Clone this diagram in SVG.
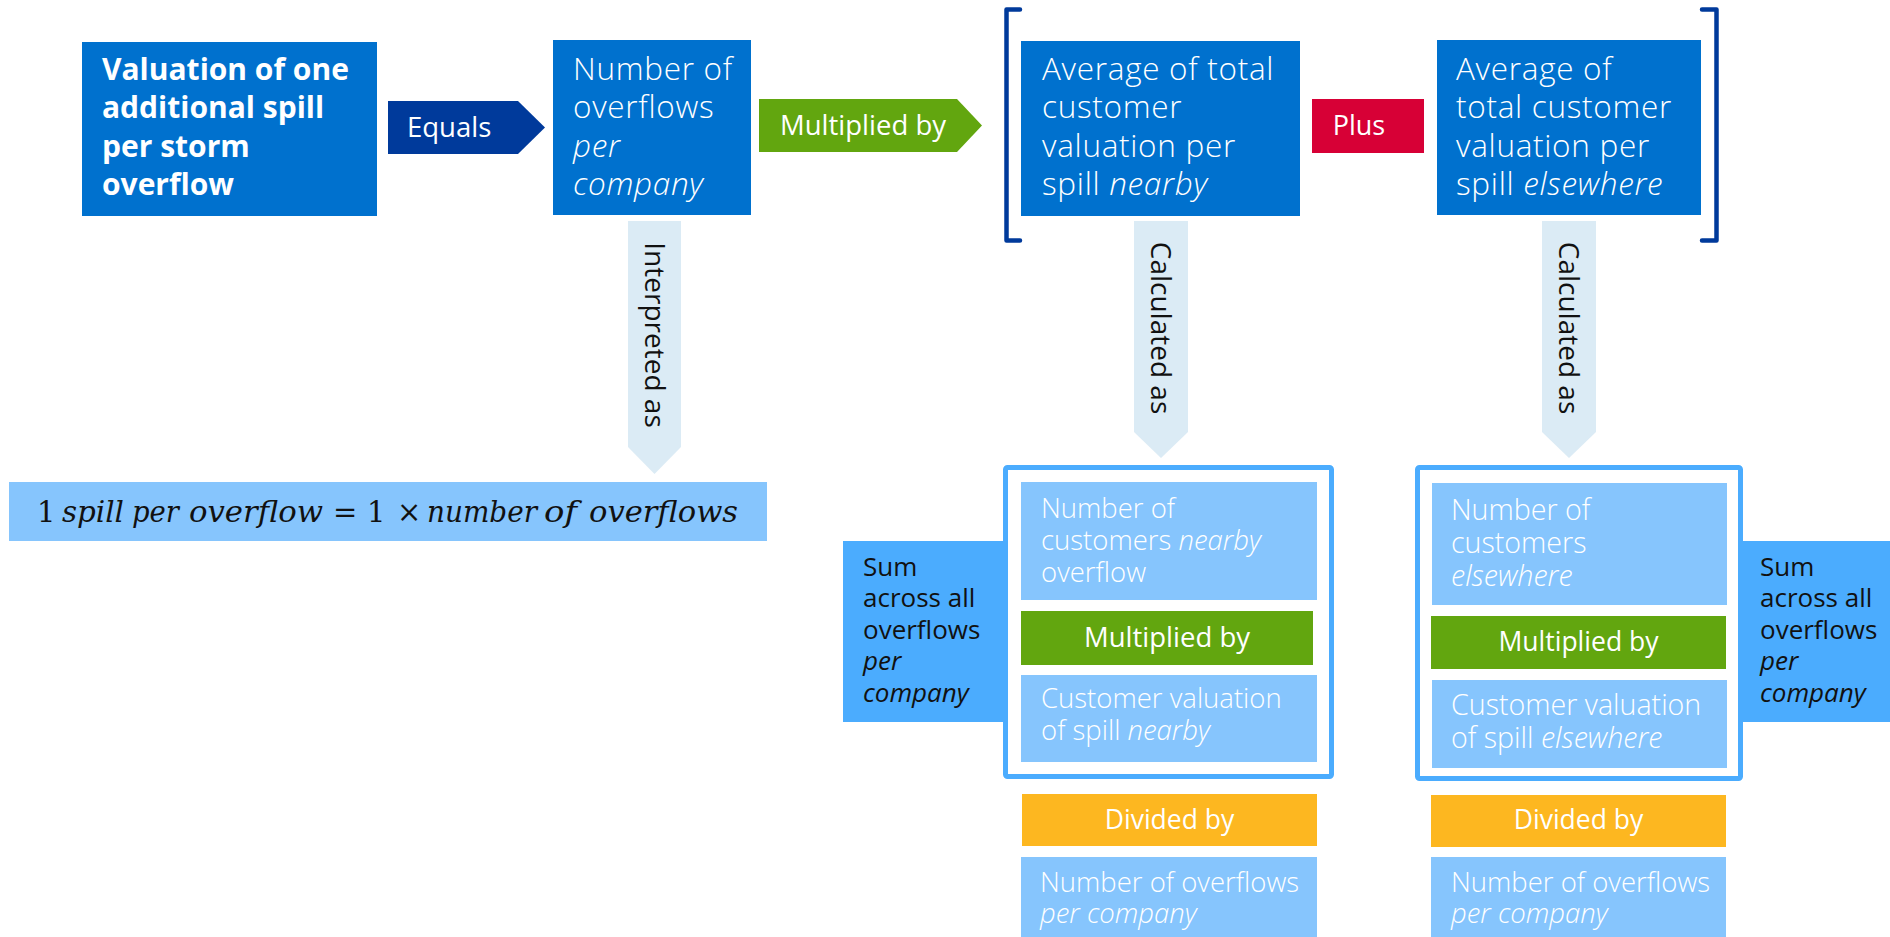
<svg xmlns="http://www.w3.org/2000/svg" width="1890" height="937" viewBox="0 0 1890 937">
  <style>
    text { font-family: "Open Sans", "Liberation Sans", sans-serif; }
    .it { font-style: italic; }
    .head { fill: #0071CE; }
    .pale { fill: #86C5FD; }
    .mid { fill: #4BACFE; }
    .grn { fill: #62A60F; }
    .org { fill: #FDB720; }
    .navy { fill: #003A9B; }
    .red { fill: #D70036; }
    .flow { fill: #DBEBF5; }
    .bold { fill: #fff; font-weight: 700; font-size: 30px; }
    .light { fill: #fff; font-weight: 300; font-size: 31.5px; letter-spacing: 0.7px; }
    .lab { fill: #fff; font-size: 27.5px; }
    .inner { fill: #fff; font-weight: 300; font-size: 27.5px; }
    .inner-r { fill: #fff; font-weight: 300; font-size: 28.6px; }
    .op { fill: #fff; font-size: 26.5px; text-anchor: middle; }
    .sum { fill: #111; font-size: 26px; }
    .vert { fill: #111; font-size: 28px; text-anchor: middle; }
    .math { fill: #111; font-family: "DejaVu Serif", "Liberation Serif", serif; font-size: 29px; }
    .brk { fill: none; stroke: #003A9B; stroke-width: 4.5; stroke-linejoin: round; stroke-linecap: round; }
    .frame { fill: #fff; stroke: #4BACFE; stroke-width: 5; }
  </style>

  <!-- top row -->
  <g id="valuation">
    <rect class="head" x="82" y="42" width="295" height="174"/>
    <text class="bold">
      <tspan x="102" y="80">Valuation of one</tspan>
      <tspan x="102" y="118">additional spill</tspan>
      <tspan x="102" y="157">per storm</tspan>
      <tspan x="102" y="195">overflow</tspan>
    </text>
  </g>

  <g id="overflows">
    <rect class="head" x="553" y="40" width="198" height="175"/>
    <text class="light">
      <tspan x="573" y="80">Number of</tspan>
      <tspan x="573" y="118">overflows</tspan>
      <tspan x="573" y="157" class="it">per</tspan>
      <tspan x="573" y="195" class="it">company</tspan>
    </text>
  </g>

  <g id="avg-nearby">
    <rect class="head" x="1021" y="41" width="279" height="175"/>
    <text class="light">
      <tspan x="1042" y="80">Average of total</tspan>
      <tspan x="1042" y="118">customer</tspan>
      <tspan x="1042" y="157">valuation per</tspan>
      <tspan x="1042" y="195">spill <tspan class="it">nearby</tspan></tspan>
    </text>
  </g>

  <g id="plus">
    <rect class="red" x="1312" y="99" width="112" height="54"/>
    <text class="op" x="1359" y="135" style="font-size:27px">Plus</text>
  </g>

  <g id="avg-elsewhere">
    <rect class="head" x="1437" y="40" width="264" height="175"/>
    <text class="light">
      <tspan x="1456" y="80">Average of</tspan>
      <tspan x="1456" y="118">total customer</tspan>
      <tspan x="1456" y="157">valuation per</tspan>
      <tspan x="1456" y="195">spill <tspan class="it">elsewhere</tspan></tspan>
    </text>
  </g>

  <!-- square brackets around the two averages -->
  <g id="brackets">
    <path class="brk" d="M1020,9.5 H1006.5 V240.5 H1020"/>
    <path class="brk" d="M1702,9.5 H1716.5 V240.5 H1702"/>
  </g>

  <!-- formula -->
  <g id="formula">
    <rect class="pale" x="9" y="482" width="758" height="59"/>
    <text class="math" y="522">
      <tspan x="37">1</tspan>
      <tspan x="62" class="it" textLength="62" lengthAdjust="spacingAndGlyphs">spill</tspan>
      <tspan x="132" class="it" textLength="47" lengthAdjust="spacingAndGlyphs">per</tspan>
      <tspan x="189" class="it" textLength="134" lengthAdjust="spacingAndGlyphs">overflow</tspan>
      <tspan x="333">=</tspan>
      <tspan x="367">1</tspan>
      <tspan x="397">×</tspan>
      <tspan x="427" class="it" textLength="110" lengthAdjust="spacingAndGlyphs">number</tspan>
      <tspan x="544" class="it" textLength="33" lengthAdjust="spacingAndGlyphs">of</tspan>
      <tspan x="589" class="it" textLength="149" lengthAdjust="spacingAndGlyphs">overflows</tspan>
    </text>
  </g>

  <!-- nearby breakdown -->
  <g id="sum-nearby">
    <rect class="mid" x="843" y="541" width="162" height="181"/>
    <text class="sum">
      <tspan x="863" y="576">Sum</tspan>
      <tspan x="863" y="607">across all</tspan>
      <tspan x="863" y="639">overflows</tspan>
      <tspan x="863" y="670" class="it">per</tspan>
      <tspan x="863" y="702" class="it">company</tspan>
    </text>
  </g>
  <g id="calc-nearby">
    <rect class="frame" x="1005.5" y="467.5" width="326" height="309" rx="2"/>
    <rect class="pale" x="1021" y="482" width="296" height="118"/>
    <text class="inner">
      <tspan x="1041" y="518">Number of</tspan>
      <tspan x="1041" y="550">customers <tspan class="it">nearby</tspan></tspan>
      <tspan x="1041" y="582">overflow</tspan>
    </text>
    <rect class="grn" x="1021" y="611" width="292" height="54"/>
    <text class="op" x="1167" y="647" style="font-size:27.5px">Multiplied by</text>
    <rect class="pale" x="1021" y="675" width="296" height="87"/>
    <text class="inner">
      <tspan x="1041" y="708">Customer valuation</tspan>
      <tspan x="1041" y="740">of spill <tspan class="it">nearby</tspan></tspan>
    </text>
  </g>
  <g id="div-nearby">
    <rect class="org" x="1022" y="794" width="295" height="52"/>
    <text class="op" x="1169.5" y="829">Divided by</text>
  </g>
  <g id="count-nearby">
    <rect class="pale" x="1021" y="857" width="296" height="80"/>
    <text class="inner">
      <tspan x="1040" y="892">Number of overflows</tspan>
      <tspan x="1040" y="923" class="it">per company</tspan>
    </text>
  </g>

  <!-- elsewhere breakdown -->
  <g id="sum-elsewhere">
    <rect class="mid" x="1742" y="541" width="148" height="181"/>
    <text class="sum">
      <tspan x="1760" y="576">Sum</tspan>
      <tspan x="1760" y="607">across all</tspan>
      <tspan x="1760" y="639">overflows</tspan>
      <tspan x="1760" y="670" class="it">per</tspan>
      <tspan x="1760" y="702" class="it">company</tspan>
    </text>
  </g>
  <g id="calc-elsewhere">
    <rect class="frame" x="1417.5" y="467.5" width="323" height="311" rx="2"/>
    <rect class="pale" x="1432" y="483" width="295" height="122"/>
    <text class="inner-r">
      <tspan x="1451" y="520">Number of</tspan>
      <tspan x="1451" y="553">customers</tspan>
      <tspan x="1451" y="586" class="it">elsewhere</tspan>
    </text>
    <rect class="grn" x="1431" y="616" width="295" height="53"/>
    <text class="op" x="1578.5" y="651">Multiplied by</text>
    <rect class="pale" x="1432" y="680" width="295" height="88"/>
    <text class="inner-r">
      <tspan x="1451" y="715">Customer valuation</tspan>
      <tspan x="1451" y="748">of spill <tspan class="it">elsewhere</tspan></tspan>
    </text>
  </g>
  <g id="div-elsewhere">
    <rect class="org" x="1431" y="795" width="295" height="52"/>
    <text class="op" x="1578.5" y="829">Divided by</text>
  </g>
  <g id="count-elsewhere">
    <rect class="pale" x="1431" y="857" width="295" height="80"/>
    <text class="inner">
      <tspan x="1451" y="892">Number of overflows</tspan>
      <tspan x="1451" y="923" class="it">per company</tspan>
    </text>
  </g>

  <!-- connectors: chevron arrows carrying their relation -->
  <g id="connectors">
    <g id="equals">
      <polygon class="navy" points="388,101 518,101 545,127.5 518,154 388,154"/>
      <text class="lab" x="407" y="137">Equals</text>
    </g>
    <g id="times">
      <polygon class="grn" points="759,99 957,99 982,125.5 957,152 759,152"/>
      <text class="lab" x="780" y="135">Multiplied by</text>
    </g>
    <g id="interpreted">
      <polygon class="flow" points="628,221 681,221 681,447 654.5,474 628,447"/>
      <text class="vert" transform="translate(645,335) rotate(90)">Interpreted as</text>
    </g>
    <g id="calc-as-nearby">
      <polygon class="flow" points="1134,221 1188,221 1188,432 1161,458 1134,432"/>
      <text class="vert" transform="translate(1151,328) rotate(90)">Calculated as</text>
    </g>
    <g id="calc-as-elsewhere">
      <polygon class="flow" points="1542,221 1596,221 1596,432 1569,458 1542,432"/>
      <text class="vert" transform="translate(1559,328) rotate(90)">Calculated as</text>
    </g>
  </g>
</svg>
